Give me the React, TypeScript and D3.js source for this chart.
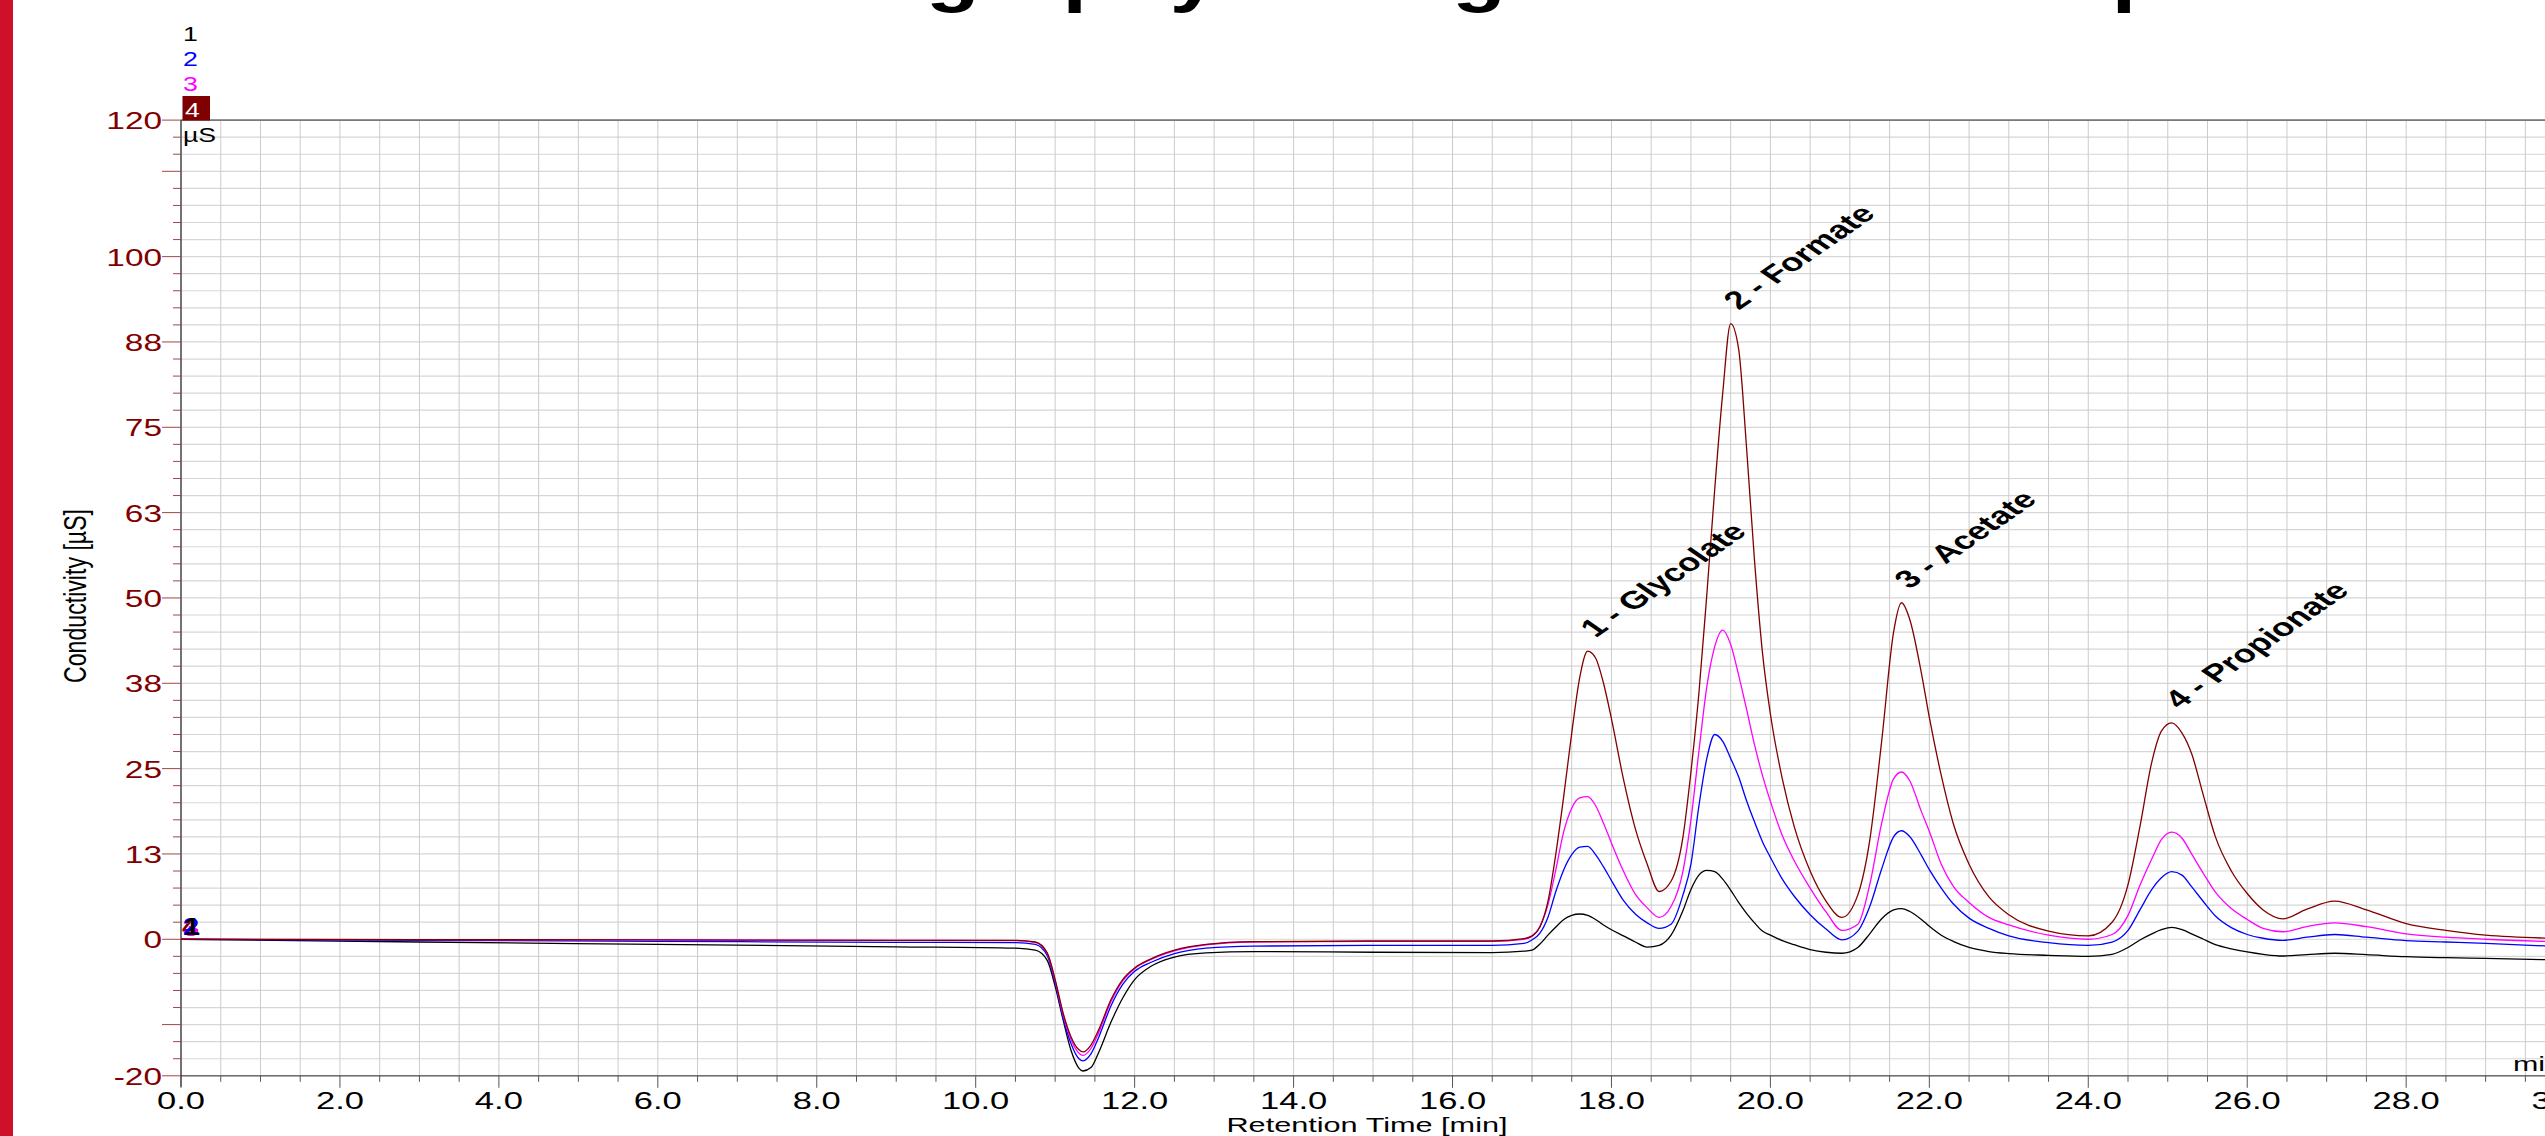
import React from 'react';
import * as d3 from 'd3';

// retention times (min) shared by all four traces
const times = [
  0, 3, 6, 9, 10.5, 10.75, 10.9, 11.0, 11.1, 11.2, 11.3, 11.35, 11.45, 11.55, 11.7, 11.85, 12.0,
  12.2, 12.5, 12.9, 13.5, 15, 16.5, 16.9, 17.0,
  17.1, 17.2, 17.3, 17.4, 17.5, 17.6, 17.7, 17.8, 17.9, 18.0, 18.15, 18.3, 18.45, 18.6, 18.75, 18.9,
  19.0, 19.1, 19.2, 19.3, 19.4, 19.5, 19.6, 19.7, 19.8, 19.9, 20.0, 20.15, 20.3, 20.5, 20.7, 20.9,
  21.1, 21.25, 21.4, 21.55, 21.65, 21.75, 21.9, 22.0, 22.15, 22.3, 22.5, 22.75, 23.0,
  23.5, 24.0, 24.3, 24.5, 24.65, 24.8, 24.92, 25.05, 25.18, 25.3, 25.45, 25.6, 25.8, 26.0, 26.2, 26.45, 26.75, 27.1, 27.5, 28.0, 28.5, 29.0, 30.0,
];

// conductivity (µS) of each injection
const trace1 = [
  0, -0.4, -0.75, -1.1, -1.3, -1.6, -3.1, -6.9, -11.8, -16.3, -18.9, -19.3, -18.8, -16.5, -12.2, -8.6, -5.9,
  -4.0, -2.6, -2.0, -1.8, -1.9, -1.95, -1.75, -1.6,
  -0.7, 0.6, 1.8, 2.9, 3.5, 3.7, 3.5, 2.9, 2.1, 1.4, 0.5, -0.4, -1.15, -0.9, 0.6, 4.2,
  7.3, 9.4, 10.1, 9.9, 8.8, 7.2, 5.4, 3.8, 2.4, 1.2, 0.6, -0.2, -0.8, -1.5, -1.9, -2.05,
  -1.2, 0.8, 3.0, 4.3, 4.5, 4.1, 2.9, 1.9, 0.6, -0.3, -1.2, -1.8, -2.1,
  -2.35, -2.5, -2.2, -1.2, -0.1, 0.8, 1.4, 1.75, 1.4, 0.8, 0.0, -0.8, -1.4, -1.85, -2.2, -2.45, -2.25, -2.05, -2.25, -2.55, -2.7, -2.8, -3.05,
];
const trace2 = [
  0, -0.15, -0.3, -0.45, -0.5, -0.75, -2.4, -6.4, -11.5, -15.3, -17.5, -17.8, -16.8, -14.3, -9.8, -6.6, -4.7,
  -3.4, -2.1, -1.3, -1.0, -0.9, -0.9, -0.6, -0.1,
  0.9, 3.2, 7.0, 10.2, 12.4, 13.5, 13.6, 12.4, 10.6, 8.6, 5.7, 3.7, 2.4, 1.6, 2.2, 6.5,
  11.0, 19.5, 26.5, 30.0, 29.0, 26.5, 23.8, 20.3, 17.2, 14.3, 12.0, 8.8, 6.3, 3.6, 1.5, -0.1,
  1.2, 4.8, 10.3, 15.0, 15.9, 15.1, 12.3, 10.2, 7.5, 5.2, 3.1, 1.6, 0.5,
  -0.5, -0.9, -0.4, 1.3, 4.3, 7.3, 9.0, 9.9, 9.4, 7.7, 5.5, 3.4, 1.7, 0.7, 0.15, -0.15, 0.3, 0.7, 0.3, -0.2, -0.4, -0.6, -1.1,
];
const trace3 = [
  0, -0.05, -0.1, -0.15, -0.2, -0.45, -2.1, -6.1, -11.1, -14.7, -16.7, -17.0, -16.0, -13.6, -9.2, -6.1, -4.3,
  -3.0, -1.7, -0.8, -0.4, -0.3, -0.3, 0.0, 0.4,
  1.9, 5.0, 10.2, 15.8, 19.2, 20.7, 20.9, 19.6, 17.0, 14.1, 10.0, 6.6, 4.6, 3.2, 4.8, 10.0,
  17.5, 27.5, 37.0, 42.9, 45.3, 43.2, 38.7, 33.7, 28.5, 24.0, 20.2, 15.2, 11.5, 7.5, 4.0, 1.3,
  2.2, 8.0, 17.0, 23.5, 24.5, 23.3, 18.7, 15.8, 11.0, 7.8, 5.4, 3.2, 2.1,
  0.6, 0.0, 0.7, 3.5, 7.9, 11.8, 14.6, 15.7, 14.8, 12.5, 9.6, 6.9, 4.5, 2.9, 1.6, 1.1, 1.85, 2.4, 1.85, 0.8, 0.3, 0.0, -0.4,
];
const trace4 = [
  0, -0.05, -0.1, -0.15, -0.15, -0.4, -2.0, -5.9, -10.8, -14.3, -16.2, -16.5, -15.5, -13.2, -8.9, -5.9, -4.2,
  -2.9, -1.6, -0.75, -0.35, -0.25, -0.25, 0.1, 0.5,
  1.8, 5.5, 12.5, 21.0, 30.2, 38.3, 42.2, 41.2, 37.5, 32.3, 23.5, 16.2, 11.0, 7.0, 8.5, 15.0,
  24.5, 36.0, 50.5, 66.0, 80.0, 90.2, 86.5, 72.0, 55.5, 42.0, 33.0, 23.5, 16.5, 10.0, 5.6, 3.2,
  6.5, 14.5, 29.0, 45.0, 49.3, 47.0, 39.0, 32.5, 24.0, 17.0, 11.0, 6.2, 3.6,
  1.2, 0.5, 2.5, 8.0, 16.5, 26.0, 30.5, 31.7, 30.2, 27.2, 21.0, 15.0, 10.0, 6.7, 4.3, 3.0, 4.4, 5.6, 4.3, 2.3, 1.3, 0.6, 0.1,
];

const traces = [trace1, trace2, trace3, trace4];
const traceNames = ['1', '2', '3', '4'];
const traceColors = ['#000000', '#0000ff', '#ff00ff', '#800000'];

const peakNames = ['1 - Glycolate', '2 - Formate', '3 - Acetate', '4 - Propionate'];
const peakTimes = [17.7, 19.5, 21.65, 25.05];

const xTickValues = [0, 2, 4, 6, 8, 10, 12, 14, 16, 18, 20, 22, 24, 26, 28, 30];
const xTickLabels = ['0.0', '2.0', '4.0', '6.0', '8.0', '10.0', '12.0', '14.0', '16.0', '18.0', '20.0', '22.0', '24.0', '26.0', '28.0', '30.0'];
const yTickValues = [120, 100, 87.5, 75, 62.5, 50, 37.5, 25, 12.5, 0, -20];
const yTickLabels = ['120', '100', '88', '75', '63', '50', '38', '25', '13', '0', '-20'];

const title = 'Ion Chromatography of Organic Acid Comparison';
const FONT = '"Liberation Sans", Arial, Helvetica, sans-serif';

// the whole original picture is stretched sideways, so text is too
const SText = ({ x, y, sx = 1.45, rot = 0, anchor = 'start', size = 20, weight = 'normal', fill = '#000', base = 'alphabetic', len, children }: any) => (
  <g transform={`translate(${x},${y}) scale(${sx},1)${rot ? ` rotate(${rot})` : ''}`}>
    <text
      x={0}
      y={0}
      textAnchor={anchor}
      dominantBaseline={base}
      fontSize={size}
      fontWeight={weight}
      fill={fill}
      fontFamily={FONT}
      textLength={len}
      lengthAdjust={len ? 'spacingAndGlyphs' : undefined}
    >
      {children}
    </text>
  </g>
);

export default function App() {
  const W = 2545;
  const H = 1136;
  const left = 181;
  const top = 120.1;
  const bottom = 1075.8;

  const x = d3.scaleLinear().domain([0, 30]).range([left, left + 30 * 79.47]);
  const y = d3.scaleLinear().domain([-20, 120]).range([bottom, top]);

  const line = d3
    .line<number>()
    .x((_, i) => x(times[i]))
    .y((v) => y(v))
    .curve(d3.curveMonotoneX);

  const vGrid = d3.range(0, 30.01, 0.5);
  const hGrid = d3.range(-20, 120.01, 2.5);

  return (
    <div style={{ position: 'absolute', left: 0, top: 0 }}>
      <svg width={W} height={H} style={{ display: 'block', background: '#fff' }}>
        <rect x={0} y={0} width={W} height={H} fill="#fff" />
        <rect x={0} y={0} width={13} height={H} fill="#cf1029" />

        {/* title, only its descenders reach into the picture */}
        <SText x={356} y={-1} sx={1.29} size={68} weight="bold">{title}</SText>

        {/* grid */}
        {hGrid.map((v) => (
          <line key={'h' + v} x1={left} x2={W} y1={y(v)} y2={y(v)} stroke="#d6d6d6" strokeWidth={1.2} />
        ))}
        {vGrid.map((t) => (
          <line key={'v' + t} x1={x(t)} x2={x(t)} y1={top} y2={bottom} stroke="#cbcbcb" strokeWidth={1} />
        ))}

        {/* frame */}
        <line x1={left} x2={W} y1={top} y2={top} stroke="#7a7a7a" strokeWidth={1.6} />
        <line x1={left} x2={W} y1={bottom} y2={bottom} stroke="#6e6e6e" strokeWidth={1.6} />
        <line x1={left} x2={left} y1={top} y2={bottom + 11} stroke="#000" strokeWidth={1} />

        {/* y ticks */}
        {hGrid.map((v) => {
          const major = v % 12.5 === 0 || v === 120 || v === -20;
          return (
            <line key={'yt' + v} x1={left - (major ? 19 : 8)} x2={left} y1={y(v)} y2={y(v)} stroke="#a34545" strokeWidth={1} />
          );
        })}
        {yTickValues.map((v, i) => (
          <SText key={'yl' + v} x={162} y={y(v) + 1} sx={1.42} anchor="end" base="central" size={23.5} fill="#800000">
            {yTickLabels[i]}
          </SText>
        ))}

        {/* x ticks */}
        {vGrid.map((t) => {
          const major = t % 2 === 0;
          return (
            <line key={'xt' + t} x1={x(t)} x2={x(t)} y1={bottom} y2={bottom + (major ? 12 : 6)} stroke="#555" strokeWidth={1} />
          );
        })}
        {xTickLabels.map((lab, i) => (
          <SText key={'xl' + lab} x={x(xTickValues[i])} y={1109} sx={1.47} anchor="middle" size={23.5}>
            {lab}
          </SText>
        ))}

        {/* axis titles */}
        <SText x={1367} y={1132} sx={1.46} anchor="middle" size={21}>Retention Time [min]</SText>
        <SText x={2513} y={1071} sx={1.45} size={21}>min</SText>
        <SText x={75} y={596} sx={1.5} rot={-90} anchor="middle" base="central" size={21.5} len={174}>
          Conductivity [µS]
        </SText>

        {/* legend */}
        {traceNames.slice(0, 3).map((n, i) => (
          <SText key={'lg' + n} x={183} y={41 + i * 25} sx={1.3} size={20.5} fill={traceColors[i]}>{n}</SText>
        ))}
        <rect x={182.5} y={96} width={27.5} height={24.5} fill={traceColors[3]} />
        <SText x={185} y={117} sx={1.3} size={20.5} fill="#fff">{traceNames[3]}</SText>
        <SText x={183} y={142} sx={1.3} size={20.5}>µS</SText>

        {/* traces */}
        {traces.map((tr, i) => (
          <path key={'tr' + i} d={line(tr) || ''} fill="none" stroke={traceColors[i]} strokeWidth={1.3} />
        ))}

        {/* trace numbers at the start of each trace */}
        {[3, 2, 1, 0].map((i) => (
          <SText key={'tn' + i} x={x(0) + 2 + (i === 0 ? 1 : 0) - (i === 3 ? 1 : 0)} y={y(0) - 4 + (i === 2 ? 1 : 0)} sx={1.2} size={24} weight="bold" fill={traceColors[i]}>
            {traceNames[i]}
          </SText>
        ))}

        {/* peak names */}
        {peakNames.map((name, i) => {
          const k = times.indexOf(peakTimes[i]);
          return (
            <SText key={name} x={x(peakTimes[i]) + 8} y={y(trace4[k]) - 13} sx={1.45} rot={-45} size={25} weight="bold">
              {name}
            </SText>
          );
        })}
      </svg>
    </div>
  );
}
